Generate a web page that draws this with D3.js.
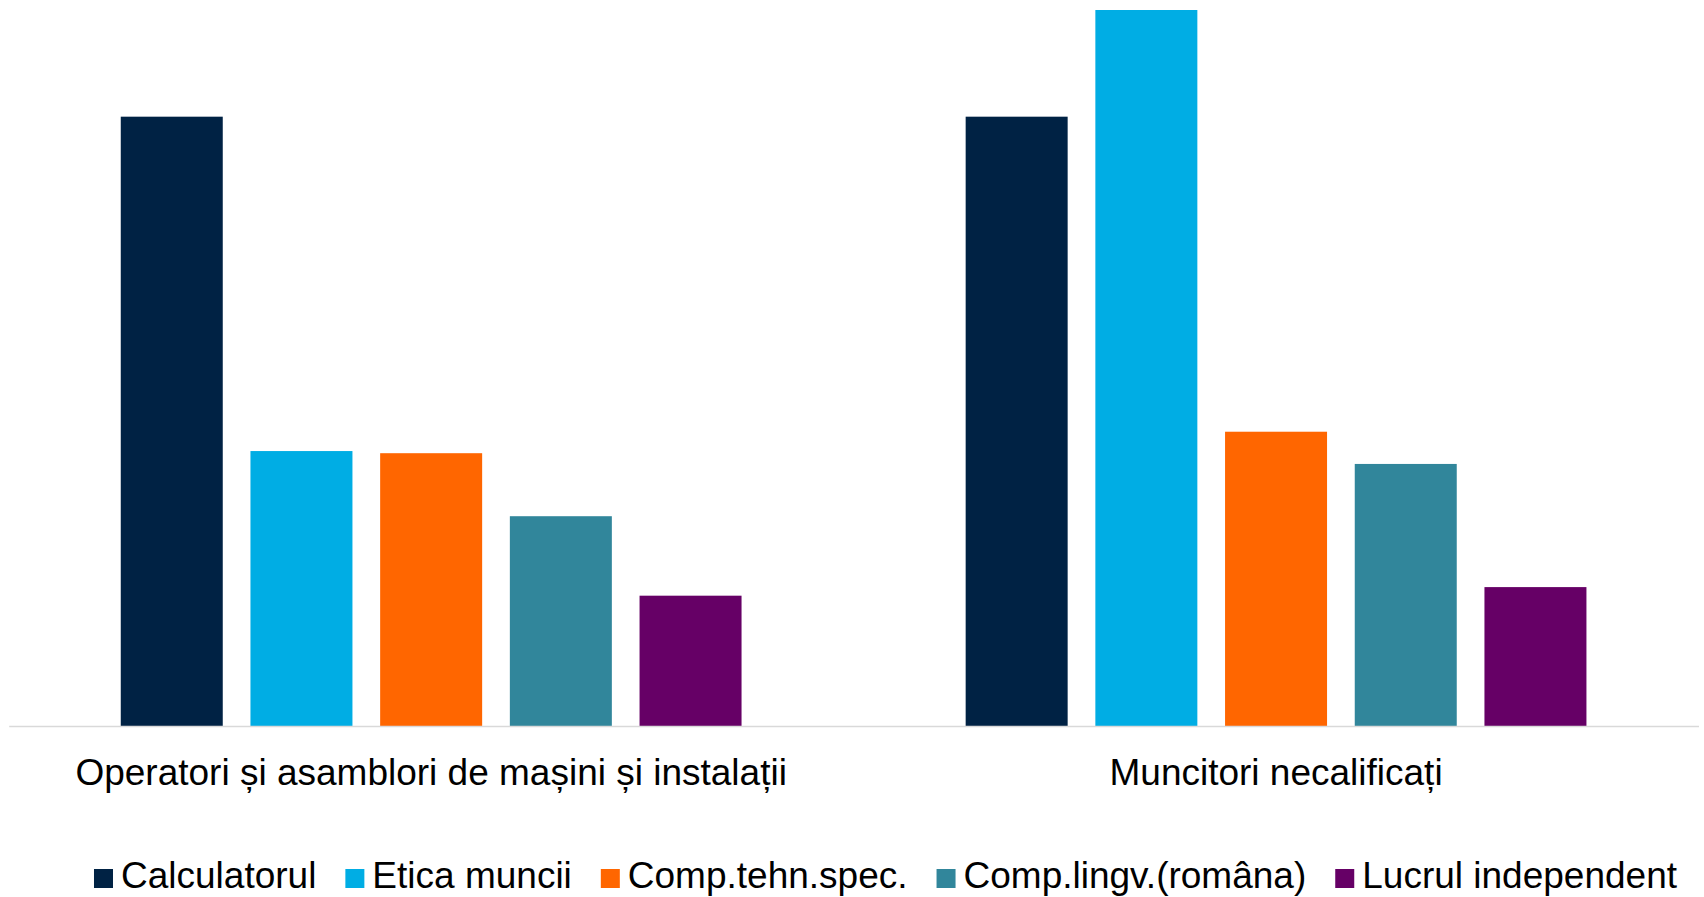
<!DOCTYPE html>
<html><head><meta charset="utf-8">
<script src="https://cdn.jsdelivr.net/npm/d3@7/dist/d3.min.js"></script>
<style>html,body{margin:0;padding:0;background:#fff;}svg{display:block;font-family:"Liberation Sans",Arial,sans-serif;}</style>
</head><body>
<svg id="chart" width="1704" height="897"></svg>
<script>
const categories = ["Operatori și asamblori de mașini și instalații", "Muncitori necalificați"];
const seriesNames = ["Calculatorul", "Etica muncii", "Comp.tehn.spec.", "Comp.lingv.(româna)", "Lucrul independent"];
const seriesColors = ["#002244", "#00ADE4", "#FF6600", "#31869B", "#660066"];
const calculatorul = [85.1, 85.1];
const eticaMuncii = [38.4, 100];
const compTehn = [38.1, 41.1];
const compLingv = [29.3, 36.6];
const lucrulIndependent = [18.2, 19.4];
const seriesValues = [calculatorul, eticaMuncii, compTehn, compLingv, lucrulIndependent];

const svg = d3.select("#chart");
const plot = {left: 8.7, right: 1698.5, top: 10, bottom: 726};
const FONT = '"Liberation Sans",Arial,sans-serif';

const x0 = d3.scaleBand().domain(categories).range([plot.left, plot.right]).paddingInner(0).paddingOuter(0);
const x1 = d3.scaleBand().domain(seriesNames).range([0, x0.bandwidth()]).paddingInner(0.2136).paddingOuter(0.864);
const y = d3.scaleLinear().domain([0, 100]).range([plot.bottom, plot.top]);

const data = [];
categories.forEach((c, ci) => seriesNames.forEach((s, si) => data.push({c, s, si, v: seriesValues[si][ci]})));

svg.append("g").selectAll("rect").data(data).join("rect")
  .attr("x", d => x0(d.c) + x1(d.s))
  .attr("y", d => y(d.v))
  .attr("width", x1.bandwidth())
  .attr("height", d => y(0) - y(d.v))
  .attr("fill", d => seriesColors[d.si]);

const xAxis = svg.append("g").attr("transform", `translate(0,${plot.bottom})`)
  .call(d3.axisBottom(x0).tickSize(0).tickPadding(0));
xAxis.attr("font-family", FONT);
xAxis.select(".domain").attr("stroke", "#D9D9D9").attr("stroke-width", 1.5);
xAxis.selectAll("text").attr("font-size", 37).attr("fill", "#000").attr("dy", 0).attr("y", 59)
  .attr("font-family", FONT);

// legend
const legend = svg.append("g").attr("font-family", FONT);
const items = legend.selectAll("g").data(seriesNames).join("g");
items.append("rect").attr("width", 19).attr("height", 19).attr("y", -19).attr("fill", (d, i) => seriesColors[i]);
items.append("text").attr("x", 27).attr("y", 0).attr("font-size", 37).attr("fill", "#000").text(d => d);
const GAP = 29;
let xpos = 0;
items.each(function() {
  const g = d3.select(this);
  g.attr("transform", `translate(${xpos},0)`);
  xpos += 27 + g.select("text").node().getComputedTextLength() + GAP;
});
const total = xpos - GAP;
legend.attr("transform", `translate(${885.5 - total / 2},888)`);
</script>
</body></html>
